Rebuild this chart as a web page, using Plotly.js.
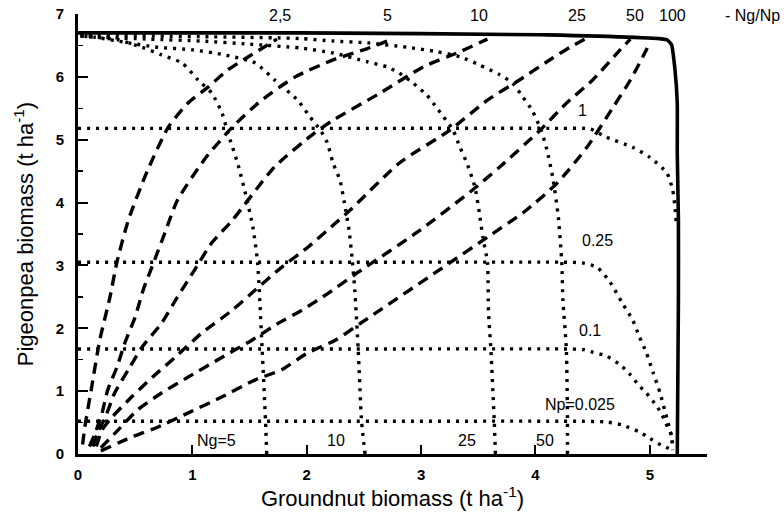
<!DOCTYPE html>
<html>
<head>
<meta charset="utf-8">
<script src="https://cdn.plot.ly/plotly-3.0.1.min.js"></script>
<style>html,body{margin:0;padding:0;background:#fff;}#chart{width:784px;height:524px;}</style>
</head>
<body>
<div id="chart"></div>
<script>
// ---- Envelope (solid) ----
const envX = [0, 1.94, 4.04, 5.15, 5.19, 5.22, 5.24, 5.24, 5.25, 5.25, 5.24];
const envY = [6.70, 6.70, 6.67, 6.59, 6.51, 6.11, 5.58, 4.79, 3.72, 2.45, 0];

// ---- Iso-Np lines (dotted) ----
const np1X = [0, 2.0, 4.2, 4.48, 4.62, 4.85, 5.0, 5.15, 5.2, 5.22, 5.23];
const np1Y = [5.18, 5.18, 5.18, 5.17, 5.04, 4.88, 4.72, 4.47, 4.2, 3.93, 3.7];
const np025X = [0, 2.0, 4.3, 4.41, 4.54, 4.65, 4.76, 4.85, 4.91, 4.97, 5.03, 5.09, 5.13, 5.16, 5.19, 5.20];
const np025Y = [3.05, 3.05, 3.05, 3.04, 2.97, 2.74, 2.40, 2.13, 1.86, 1.61, 1.29, 0.97, 0.70, 0.49, 0.27, 0.06];
const np01X = [0, 2.0, 4.3, 4.42, 4.50, 4.62, 4.74, 4.83, 4.90, 4.97, 5.04, 5.10, 5.14, 5.19, 5.20];
const np01Y = [1.67, 1.67, 1.67, 1.66, 1.62, 1.56, 1.42, 1.26, 1.10, 0.97, 0.81, 0.65, 0.49, 0.30, 0.11];
const np0025X = [0, 2.0, 4.4, 4.62, 4.76, 4.91, 5.0, 5.07, 5.14, 5.20];
const np0025Y = [0.52, 0.52, 0.52, 0.51, 0.46, 0.35, 0.25, 0.17, 0.11, 0.06];

// ---- Iso-Ng lines (dotted) ----
const ng5X = [1.65, 1.64, 1.61, 1.57, 1.53, 1.47, 1.40, 1.31, 1.26, 1.17, 1.05, 0.91, 0.73, 0.56, 0.35, 0.15, 0.02];
const ng5Y = [0, 0.51, 1.67, 3.05, 3.60, 4.10, 4.60, 5.11, 5.42, 5.74, 5.95, 6.22, 6.35, 6.47, 6.59, 6.63, 6.65];
const ng10X = [2.51, 2.48, 2.45, 2.42, 2.40, 2.37, 2.33, 2.29, 2.23, 2.18, 2.12, 2.03, 1.92, 1.72, 1.55, 1.28, 1.0, 0.70, 0.41, 0.15, 0.02];
const ng10Y = [0, 0.51, 1.67, 2.61, 3.05, 3.56, 3.99, 4.36, 4.63, 4.95, 5.15, 5.36, 5.63, 5.95, 6.22, 6.35, 6.43, 6.47, 6.55, 6.63, 6.65];
const ng25X = [3.65, 3.64, 3.61, 3.59, 3.58, 3.54, 3.51, 3.47, 3.40, 3.34, 3.28, 3.14, 3.05, 2.93, 2.81, 2.70, 2.53, 2.23, 1.94, 1.50, 1.07, 0.63, 0.19, 0.02];
const ng25Y = [0, 0.51, 1.67, 2.24, 3.05, 3.45, 3.83, 4.25, 4.63, 4.88, 5.15, 5.50, 5.71, 5.90, 6.06, 6.16, 6.24, 6.38, 6.46, 6.52, 6.57, 6.60, 6.63, 6.65];
const ng50X = [4.28, 4.28, 4.27, 4.24, 4.23, 4.20, 4.15, 4.10, 4.05, 3.97, 3.89, 3.80, 3.69, 3.51, 3.34, 3.14, 2.88, 2.53, 2.23, 1.94, 1.07, 0.02];
const ng50Y = [0, 0.51, 1.67, 2.45, 3.05, 3.77, 4.41, 4.84, 5.15, 5.47, 5.68, 5.90, 6.03, 6.19, 6.32, 6.40, 6.47, 6.54, 6.57, 6.61, 6.64, 6.66];

// ---- Iso-ratio Ng/Np lines (dashed) ----
const r2_5X = [0.04, 0.06, 0.12, 0.19, 0.28, 0.34, 0.44, 0.61, 0.79, 0.96, 1.14, 1.31, 1.49, 1.74];
const r2_5Y = [0.15, 0.43, 1.07, 1.81, 2.50, 3.05, 3.72, 4.52, 5.20, 5.58, 5.84, 6.11, 6.32, 6.60];
const r5X = [0.10, 0.15, 0.21, 0.26, 0.34, 0.41, 0.50, 0.57, 0.66, 0.76, 0.87, 1.12, 1.35, 1.60, 1.90, 2.23, 2.53, 2.75];
const r5Y = [0.12, 0.33, 0.65, 1.02, 1.38, 1.77, 2.18, 2.61, 3.04, 3.52, 4.04, 4.72, 5.20, 5.62, 6.00, 6.27, 6.45, 6.60];
const r10X = [0.13, 0.17, 0.24, 0.32, 0.44, 0.56, 0.73, 0.87, 1.02, 1.17, 1.35, 1.72, 2.07, 2.23, 2.64, 3.02, 3.34, 3.58];
const r10Y = [0.12, 0.33, 0.59, 0.97, 1.34, 1.70, 2.08, 2.50, 2.93, 3.36, 3.72, 4.57, 5.11, 5.31, 5.74, 6.16, 6.40, 6.60];
const r25X = [0.16, 0.21, 0.30, 0.47, 0.65, 0.85, 1.08, 1.35, 1.55, 1.78, 2.01, 2.25, 2.38, 2.81, 3.25, 3.58, 3.86, 4.15, 4.30, 4.45];
const r25Y = [0.12, 0.38, 0.59, 0.91, 1.22, 1.54, 1.92, 2.29, 2.61, 2.97, 3.29, 3.67, 3.88, 4.63, 5.15, 5.63, 5.95, 6.30, 6.47, 6.62];
const r50X = [0.20, 0.35, 0.52, 0.73, 0.96, 1.26, 1.52, 1.75, 1.96, 2.19, 2.44, 2.96, 3.45, 3.69, 4.04, 4.27, 4.50, 4.74, 4.83];
const r50Y = [0.10, 0.38, 0.70, 0.97, 1.22, 1.54, 1.81, 2.08, 2.29, 2.56, 2.88, 3.52, 4.20, 4.57, 5.15, 5.58, 5.95, 6.43, 6.60];
const r100X = [0.20, 0.47, 0.70, 0.96, 1.26, 1.55, 1.78, 2.01, 2.25, 2.47, 3.25, 3.58, 3.90, 4.19, 4.45, 4.68, 4.83, 4.97, 5.00];
const r100Y = [0.05, 0.27, 0.43, 0.65, 0.91, 1.18, 1.34, 1.61, 1.81, 2.08, 3.04, 3.45, 3.85, 4.31, 4.88, 5.52, 5.95, 6.43, 6.56];

// ---- Labels ----
const ratioLabels = ['2,5', '5', '10', '25', '50', '100'];
const ratioLabelX = [1.77, 2.71, 3.51, 4.36, 4.87, 5.20];
const npLabels = ['1', '0.25', '0.1', 'Np=0.025'];
const npLabelX = [4.41, 4.54, 4.48, 4.39];
const npLabelY = [5.47, 3.40, 1.97, 0.78];
const ngLabels = ['Ng=5', '10', '25', '50'];
const ngLabelX = [1.21, 2.26, 3.40, 4.08];
const ngLabelY = [0.22, 0.22, 0.22, 0.22];

const DOT = {color: '#000', width: 3.4, dash: '3px,6px', shape: 'spline', smoothing: 0.6};
const DASH = {color: '#000', width: 3.4, dash: '11px,7px', shape: 'spline', smoothing: 0.6};

function tr(x, y, line, name) {
  return {x: x, y: y, mode: 'lines', line: line, name: name, hoverinfo: 'skip', showlegend: false};
}

const traces = [
  tr(np1X, np1Y, DOT, 'Np=1'),
  tr(np025X, np025Y, DOT, 'Np=0.25'),
  tr(np01X, np01Y, DOT, 'Np=0.1'),
  tr(np0025X, np0025Y, DOT, 'Np=0.025'),
  tr(ng5X, ng5Y, DOT, 'Ng=5'),
  tr(ng10X, ng10Y, DOT, 'Ng=10'),
  tr(ng25X, ng25Y, DOT, 'Ng=25'),
  tr(ng50X, ng50Y, DOT, 'Ng=50'),
  tr(r2_5X, r2_5Y, DASH, 'Ng/Np=2.5'),
  tr(r5X, r5Y, DASH, 'Ng/Np=5'),
  tr(r10X, r10Y, DASH, 'Ng/Np=10'),
  tr(r25X, r25Y, DASH, 'Ng/Np=25'),
  tr(r50X, r50Y, DASH, 'Ng/Np=50'),
  tr(r100X, r100Y, DASH, 'Ng/Np=100'),
  tr(envX, envY, {color: '#000', width: 3.6, shape: 'spline', smoothing: 0.4}, 'Envelope')
];

const FONT = 'Liberation Sans, Arial, sans-serif';
const AF = {family: FONT, size: 16, color: '#000'};
const annotations = [];
ratioLabels.forEach((t, i) => annotations.push({text: t, x: ratioLabelX[i], y: 6.98, xref: 'x', yref: 'y', showarrow: false, xanchor: 'center', yanchor: 'middle', font: AF}));
annotations.push({text: '- Ng/Np', x: 1.0716, y: 6.98, xref: 'paper', yref: 'y', showarrow: false, xanchor: 'center', yanchor: 'middle', font: AF});
npLabels.forEach((t, i) => annotations.push({text: t, x: npLabelX[i], y: npLabelY[i], xref: 'x', yref: 'y', showarrow: false, xanchor: 'center', yanchor: 'middle', font: AF}));
ngLabels.forEach((t, i) => annotations.push({text: t, x: ngLabelX[i], y: ngLabelY[i], xref: 'x', yref: 'y', showarrow: false, xanchor: 'center', yanchor: 'middle', font: AF}));

const layout = {
  width: 784, height: 524,
  margin: {l: 78, r: 77, t: 14, b: 70},
  paper_bgcolor: '#fff', plot_bgcolor: '#fff',
  showlegend: false,
  font: {family: FONT, color: '#000'},
  xaxis: {
    range: [0, 5.5], dtick: 1, tick0: 0, showgrid: false, zeroline: false,
    showline: true, linecolor: '#000', linewidth: 3,
    ticks: 'inside', ticklen: 9, tickwidth: 2, tickcolor: '#000',
    ticklabelstandoff: 5,
    tickfont: {family: FONT, size: 15, color: '#000', weight: 'bold'},
    title: {text: 'Groundnut biomass (t ha<sup>-1</sup>)', font: {family: FONT, size: 22, color: '#000'}, standoff: 8}
  },
  yaxis: {
    range: [0, 7], dtick: 1, tick0: 0, showgrid: false, zeroline: false,
    showline: true, linecolor: '#000', linewidth: 3,
    ticks: 'inside', ticklen: 10, tickwidth: 2, tickcolor: '#000',
    ticklabelstandoff: 8,
    minor: {dtick: 0.5, ticks: 'inside', ticklen: 5, tickwidth: 1.5, tickcolor: '#000', showgrid: false},
    tickfont: {family: FONT, size: 15, color: '#000', weight: 'bold'},
    title: {text: 'Pigeonpea biomass (t ha<sup>-1</sup>)', font: {family: FONT, size: 22, color: '#000'}, standoff: 16}
  },
  annotations: annotations
};

Plotly.newPlot('chart', traces, layout, {displayModeBar: false, staticPlot: true});
</script>
</body>
</html>
